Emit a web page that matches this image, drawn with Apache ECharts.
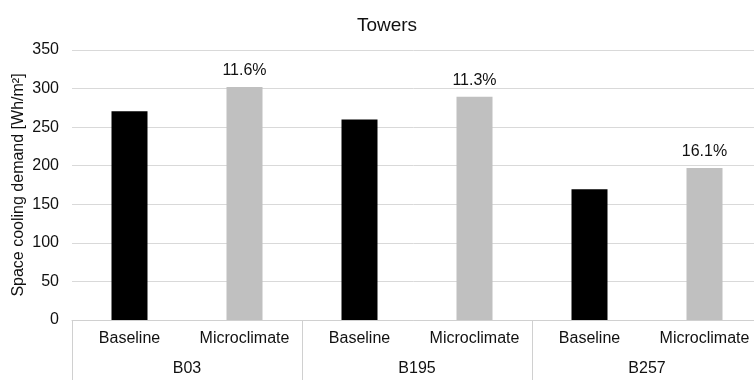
<!DOCTYPE html>
<html>
<head>
<meta charset="utf-8">
<script src="https://cdn.jsdelivr.net/npm/echarts@6/dist/echarts.min.js"></script>
<style>html,body{margin:0;padding:0;background:#fff;}#c{width:754px;height:380px;}</style>
</head>
<body>
<div id="c"></div>
<script>
var groups = ['B03', 'B195', 'B257'];
var scenarios = ['Baseline', 'Microclimate'];
var baselineValues = [270.5, 260, 169.5];
var microclimateValues = [302, 289.5, 197];
var changeLabels = ['11.6%', '11.3%', '16.1%'];
var yTicks = [0, 50, 100, 150, 200, 250, 300, 350];

var FONT = '"Liberation Sans", Arial, Helvetica, sans-serif';
var TXT = '#111111';

var cats = [];
var data = [];
for (var i = 0; i < groups.length; i++) {
  cats.push(scenarios[0]);
  data.push({ value: baselineValues[i], itemStyle: { color: '#000000' }, label: { show: false } });
  cats.push(scenarios[1]);
  data.push({ value: microclimateValues[i], itemStyle: { color: '#c0c0c0' },
    label: { show: true, formatter: changeLabels[i] } });
}

var chart = echarts.init(document.getElementById('c'), null, { renderer: 'canvas' });
chart.setOption({
  animation: false,
  backgroundColor: '#ffffff',
  title: {
    text: 'Towers', left: 382, top: 11, textAlign: 'center',
    textStyle: { fontFamily: FONT, fontSize: 19, fontWeight: 'normal', color: TXT }
  },
  grid: { left: 72, right: -8, top: 50, bottom: 60, containLabel: false, outerBoundsMode: 'none' },
  xAxis: [{
    type: 'category', data: cats, position: 'bottom',
    axisLine: { show: true, lineStyle: { color: '#d0d0d0', width: 1 } },
    axisTick: { show: false },
    axisLabel: { interval: 0, margin: 11, fontFamily: FONT, fontSize: 16, color: TXT }
  }, {
    type: 'category', data: groups, position: 'bottom',
    axisLine: { show: false },
    axisTick: { show: true, length: 62, lineStyle: { color: '#d0d0d0', width: 1 } },
    axisLabel: { interval: 0, margin: 41, fontFamily: FONT, fontSize: 16, color: TXT }
  }],
  yAxis: {
    type: 'value', min: yTicks[0], max: yTicks[yTicks.length - 1], interval: 50,
    name: 'Space cooling demand [Wh/m²]', nameLocation: 'middle', nameGap: 45,
    nameMoveOverlap: false,
    nameTextStyle: { fontFamily: FONT, fontSize: 16, color: TXT },
    axisLine: { show: false }, axisTick: { show: false },
    axisLabel: { margin: 13, fontFamily: FONT, fontSize: 16, color: TXT },
    splitLine: { show: true, lineStyle: { color: '#d9d9d9', width: 1 } }
  },
  series: [{
    type: 'bar', xAxisIndex: 0, data: data, barWidth: 36,
    label: { position: 'top', distance: 8, fontFamily: FONT, fontSize: 16, color: TXT }
  }]
});
</script>
</body>
</html>
